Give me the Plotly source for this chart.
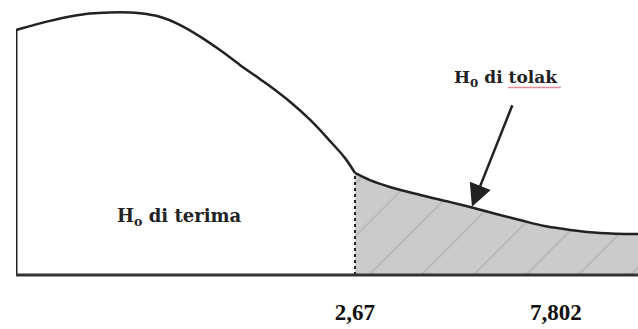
import plotly.graph_objects as go

# Curve (arbitrary t units, density scaled 0..1)
left_x = [0.0, 0.225, 0.547, 0.868, 1.19, 1.51, 1.83, 1.99, 2.31, 2.64, 2.96, 3.28,
          3.60, 3.92, 4.08, 4.41, 4.73, 5.05, 5.29, 5.45]
left_y = [0.891, 0.905, 0.924, 0.940, 0.951, 0.955, 0.955, 0.952, 0.939, 0.909, 0.867,
          0.818, 0.764, 0.713, 0.687, 0.629, 0.564, 0.487, 0.425, 0.371]
right_x = [5.45, 5.69, 6.01, 6.50, 6.98, 7.30, 7.78, 8.10, 8.50, 8.91, 9.39, 10.0]
right_y = [0.371, 0.345, 0.320, 0.291, 0.265, 0.247, 0.218, 0.200, 0.178, 0.164, 0.153, 0.149]

crit_pos = 5.45
tick_positions = [5.45, 8.68]
tick_labels = ["2,67", "7,802"]
accept_label = "<b>H<sub>o</sub> di terima</b>"
reject_label = "<b>H<sub>0</sub> di tolak</b>"
accept_pos = (2.63, 0.212)
reject_pos = (7.88, 0.713)
arrow_tip = (7.33, 0.248)

INK = "#222222"
fig = go.Figure()

# shaded rejection region
fig.add_trace(go.Scatter(
    x=right_x, y=right_y, mode="lines", line=dict(color=INK, width=2.5, shape="spline"),
    fill="tozeroy", fillcolor="#c9c9c9",
    fillpattern=dict(shape="/", bgcolor="#cbcbcb", fgcolor="#9a9a9a", size=37, solidity=0.04),
    hoverinfo="skip"))
# acceptance side curve
fig.add_trace(go.Scatter(x=left_x, y=left_y, mode="lines",
                         line=dict(color=INK, width=2.5, shape="spline"), hoverinfo="skip"))
# left vertical edge
fig.add_trace(go.Scatter(x=[left_x[0], left_x[0]], y=[0, left_y[0]], mode="lines",
                         line=dict(color=INK, width=3), hoverinfo="skip"))
# critical value dashed line
fig.add_trace(go.Scatter(x=[crit_pos, crit_pos], y=[0, right_y[0]], mode="lines",
                         line=dict(color=INK, width=2, dash="3px,3px"), hoverinfo="skip"))
# baseline
fig.add_trace(go.Scatter(x=[left_x[0], right_x[-1]], y=[0, 0], mode="lines",
                         line=dict(color="#333333", width=3), hoverinfo="skip"))

fig.add_annotation(x=accept_pos[0], y=accept_pos[1], text=accept_label, showarrow=False,
                   font=dict(family="DejaVu Serif", size=18, color=INK), xanchor="center",
                   yanchor="middle")
fig.add_annotation(x=reject_pos[0], y=reject_pos[1], text=reject_label, showarrow=False,
                   font=dict(family="DejaVu Serif", size=17, color=INK), xanchor="center",
                   yanchor="middle")
fig.add_annotation(x=arrow_tip[0], y=arrow_tip[1], ax=41, ay=-103, axref="pixel", ayref="pixel",
                   text="", showarrow=True, arrowhead=2, arrowsize=1.8, arrowwidth=2.5,
                   arrowcolor=INK)
# faint red spell-check underline beneath "tolak"
fig.add_shape(type="line", x0=7.91, x1=8.76, y0=0.682, y1=0.682, xref="x", yref="y",
              line=dict(color="#e07080", width=1.5), opacity=0.8)

fig.update_layout(
    width=638, height=329,
    margin=dict(l=16, r=0, t=0, b=49, autoexpand=False),
    plot_bgcolor="white", paper_bgcolor="white",
    showlegend=False,
    xaxis=dict(range=[0, 10], showgrid=False, zeroline=False, showline=False,
               tickvals=tick_positions, ticktext=tick_labels, ticks="", automargin=False,
               ticklabelstandoff=16,
               tickfont=dict(family="Liberation Serif", size=23, color="#111111", weight="bold"),
               fixedrange=True),
    yaxis=dict(range=[-5 / 275, 1], showgrid=False, zeroline=False, showline=False,
               showticklabels=False, fixedrange=True, automargin=False),
)
fig.write_html("out.html", config={"displayModeBar": False},
               post_script="document.body.style.margin='0';document.body.style.overflow='hidden';")
